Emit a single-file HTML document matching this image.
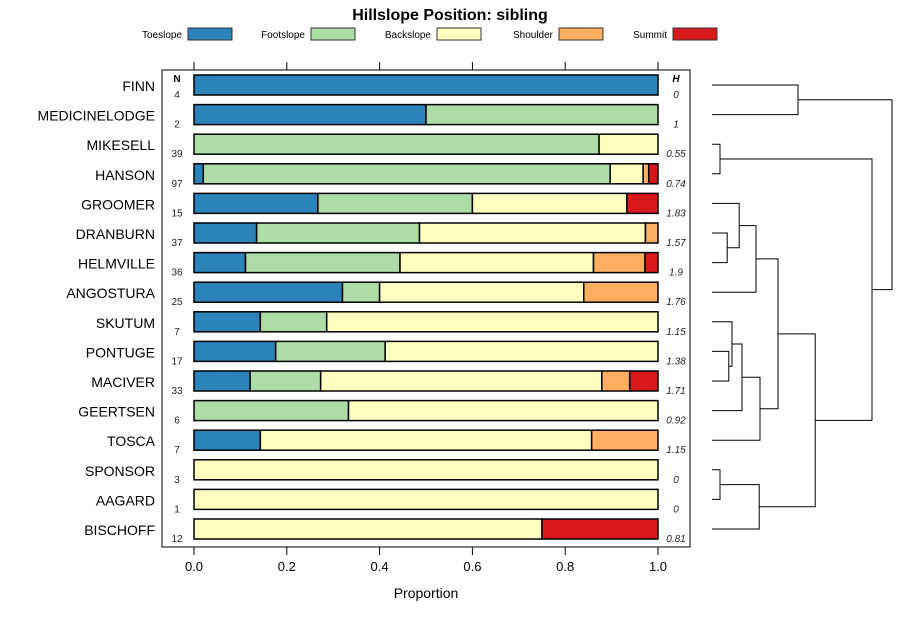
<!DOCTYPE html>
<html><head><meta charset="utf-8"><style>
body{margin:0;background:#fff;}
svg text{font-family:"Liberation Sans",sans-serif;}
</style></head><body>
<svg id="c" width="900" height="620" xmlns="http://www.w3.org/2000/svg">
<text x="450" y="20" text-anchor="middle" font-size="16" font-weight="bold">Hillslope Position: sibling</text>
<g id="legend"></g>
<rect x="162" y="70" width="528" height="477" fill="none" stroke="#000"/>
<g id="bars"></g>
<g id="axes"></g>
<g id="dendro"></g>
<text x="426" y="598" text-anchor="middle" font-size="14">Proportion</text>
</svg>
<script>
const categories=["Toeslope","Footslope","Backslope","Shoulder","Summit"];
const colors=["#2b83ba","#abdda4","#ffffbf","#fdae61","#d7191c"];
const names=["FINN","MEDICINELODGE","MIKESELL","HANSON","GROOMER","DRANBURN","HELMVILLE","ANGOSTURA","SKUTUM","PONTUGE","MACIVER","GEERTSEN","TOSCA","SPONSOR","AAGARD","BISCHOFF"];
const nVals=[4,2,39,97,15,37,36,25,7,17,33,6,7,3,1,12];
const hVals=["0","1","0.55","0.74","1.83","1.57","1.9","1.76","1.15","1.38","1.71","0.92","1.15","0","0","0.81"];
const toeslope=[1,0.5,0,0.02,0.267,0.135,0.111,0.32,0.143,0.176,0.121,0,0.143,0,0,0];
const footslope=[0,0.5,0.873,0.877,0.333,0.351,0.333,0.08,0.143,0.236,0.152,0.333,0,0,0,0];
const backslope=[0,0,0.127,0.071,0.333,0.487,0.417,0.44,0.714,0.588,0.606,0.667,0.714,1,1,0.75];
const shoulder=[0,0,0,0.012,0,0.027,0.111,0.16,0,0,0.06,0,0.143,0,0,0];
const summit=[0,0,0,0.02,0.067,0,0.028,0,0,0,0.061,0,0,0,0,0.25];
const xTicks=[0,0.2,0.4,0.6,0.8,1];
const xTickLabels=["0.0","0.2","0.4","0.6","0.8","1.0"];
// dendrogram merges: [a, b, height]; negative = leaf -(i+1), positive = merge number (1-based)
const merges=[[-14,-15,0.1],[-10,-11,0.21],[-6,-7,0.19],[-3,-4,0.1],[-9,2,0.25],[-5,3,0.34],[-8,6,0.55],[-1,-2,1.075],[-12,5,0.375],[-13,9,0.6],[7,10,0.825],[1,-16,0.59],[11,12,1.29],[4,13,2.0],[8,14,2.25]];
const NS="http://www.w3.org/2000/svg";
function el(t,a,p){const e=document.createElementNS(NS,t);for(const k in a)e.setAttribute(k,a[k]);p.appendChild(e);return e;}
const X=v=>194+v*464;
const Y=i=>85+i*29.6;
const lg=document.getElementById('legend');
const lx=[182,305,431,553,667];
categories.forEach((c,i)=>{
 const t=el('text',{x:lx[i],y:38,'text-anchor':'end','font-size':10},lg);t.textContent=c;
 
 
 const r=el('rect',{x:lx[i]+6,y:28,width:44,height:12,fill:colors[i],stroke:'#333'},lg);
 
 
});
const bg=document.getElementById('bars');
const series=[toeslope,footslope,backslope,shoulder,summit];
const hdr1=el('text',{x:177,y:82,'text-anchor':'middle','font-size':10,'font-weight':'bold'},bg);hdr1.textContent='N';


const hdr2=el('text',{x:676,y:82,'text-anchor':'middle','font-size':10,'font-weight':'bold','font-style':'italic'},bg);hdr2.textContent='H';


names.forEach((n,i)=>{
 const y=Y(i);let cum=0;
 series.forEach((s,k)=>{
  const v=s[i];if(v<=0)return;
  const r=el('rect',{x:X(cum),y:y-10,width:X(cum+v)-X(cum),height:20,fill:colors[k],stroke:'#000','stroke-width':1.5},bg);
  
  
  cum+=v;
 });
 const lab=el('text',{x:155,y:y+6,'text-anchor':'end','font-size':14},bg);lab.textContent=n;
 
 
 const nt=el('text',{x:177,y:y+13,'text-anchor':'middle','font-size':10,fill:'#222'},bg);nt.textContent=nVals[i];
 
 
 const ht=el('text',{x:676,y:y+13,'text-anchor':'middle','font-size':10,'font-style':'italic',fill:'#222'},bg);ht.textContent=hVals[i];
 
 
});
const ax=document.getElementById('axes');
xTicks.forEach((v,i)=>{
 el('line',{x1:X(v),x2:X(v),y1:62,y2:70,stroke:'#000'},ax);
 el('line',{x1:X(v),x2:X(v),y1:547,y2:555,stroke:'#000'},ax);
 const t=el('text',{x:X(v),y:571,'text-anchor':'middle','font-size':13},ax);t.textContent=xTickLabels[i];
 
 
});
const dg=document.getElementById('dendro');
const D=h=>712+h*80;
const pos=[];
function node(id){if(id<0)return{x:D(0),y:Y(-id-1)};return pos[id-1];}
merges.forEach(m=>{
 const a=node(m[0]),b=node(m[1]);const hx=D(m[2]);
 const p=el('path',{d:`M${a.x},${a.y}H${hx}V${b.y}H${b.x}`,fill:'none',stroke:'#000','stroke-width':1},dg);
 
 
 pos.push({x:hx,y:(a.y+b.y)/2});
});
</script>
</body></html>
